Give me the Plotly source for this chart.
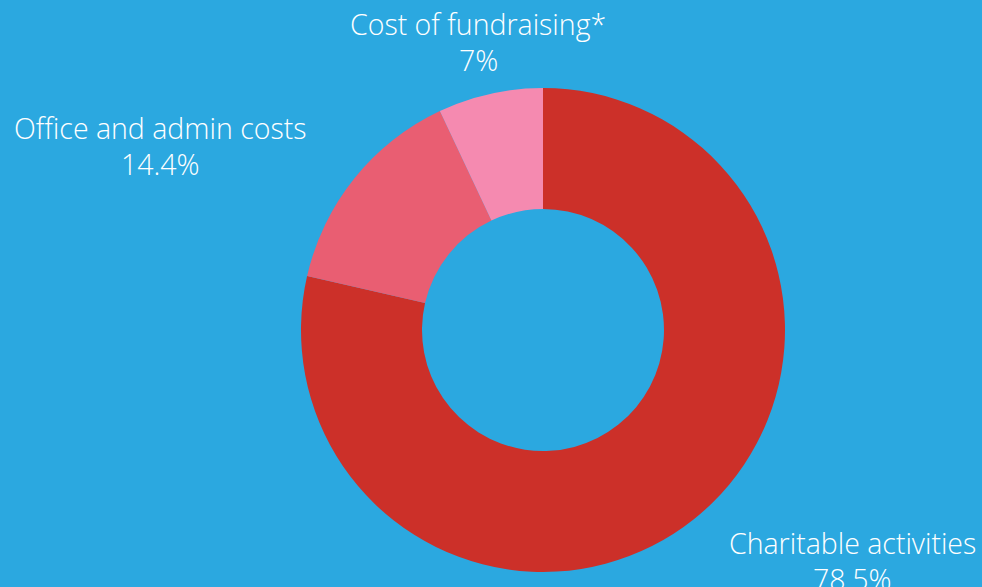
import plotly.graph_objects as go

labels = ["Charitable activities", "Office and admin costs", "Cost of fundraising*"]
values = [78.5, 14.4, 7]
colors = ["#CC3029", "#E95E72", "#F58AB0"]

W, H = 982, 587
cx, cy, R = 543, 330, 242

fig = go.Figure(go.Pie(
    labels=labels, values=values, hole=0.5, sort=False, direction="clockwise", rotation=0,
    marker=dict(colors=colors, line=dict(width=0)), textinfo="none", hoverinfo="label+percent",
    domain=dict(x=[(cx - R) / W, (cx + R) / W], y=[(H - cy - R) / H, (H - cy + R) / H]),
    showlegend=False,
))

# label anchor positions (px, centre of first text line)
label_pos = [(852, 543), (160, 128), (478, 24)]
font = dict(family="Open Sans", size=28.5, color="white", weight=300)
for lab, val, (lx, ly) in zip(labels, values, label_pos):
    fig.add_annotation(x=lx / W, y=1 - ly / H, xref="paper", yref="paper", text=lab,
                       showarrow=False, font=font, xanchor="center", yanchor="middle")
    fig.add_annotation(x=lx / W, y=1 - (ly + 36) / H, xref="paper", yref="paper",
                       text=f"{val:g}%", showarrow=False, font=font, xanchor="center", yanchor="middle")

fig.update_layout(width=W, height=H, margin=dict(l=0, r=0, t=0, b=0),
                  paper_bgcolor="#2BA8E0", plot_bgcolor="#2BA8E0")
fig.write_html("out.html", config={"displayModeBar": False},
               post_script="document.body.style.margin='0';document.body.style.background='#2BA8E0';")
